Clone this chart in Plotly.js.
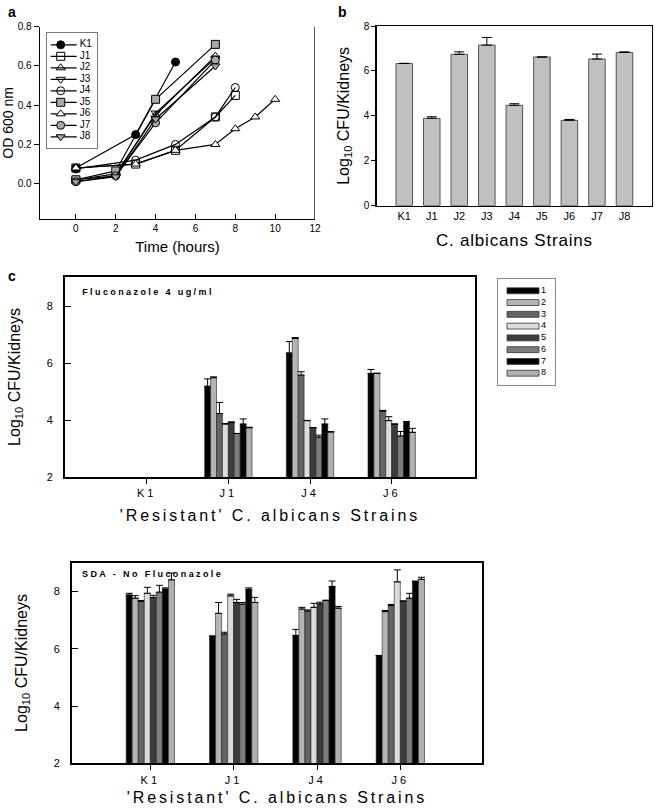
<!DOCTYPE html>
<html><head><meta charset="utf-8">
<script src="https://cdn.plot.ly/plotly-3.0.1.min.js"></script>
<style>
body{margin:0;padding:0;background:#fff}
#chart{width:655px;height:810px}
.x3title,.x4title{letter-spacing:2.9px}
.x3tick text,.x4tick text{letter-spacing:3px}
.x2title{letter-spacing:0.8px}
g.annotation[data-index="3"] text,g.annotation[data-index="4"] text{letter-spacing:2.4px}
</style></head><body><div id="chart"></div><script>
// ---------- Panel a: growth curves ----------
const strainNames = ['K1','J1','J2','J3','J4','J5','J6','J7','J8'];
const hoursK1 = [0, 3, 5];              const odK1 = [0.08, 0.25, 0.62];
const hoursJ1 = [0, 3, 5, 7, 8];        const odJ1 = [0.08, 0.10, 0.17, 0.34, 0.45];
const hoursJ2 = [0, 2, 4, 7];           const odJ2 = [0.02, 0.05, 0.35, 0.65];
const hoursJ3 = [0, 2, 4, 7];           const odJ3 = [0.02, 0.04, 0.36, 0.64];
const hoursJ4 = [0, 3, 5, 7, 8];        const odJ4 = [0.075, 0.12, 0.20, 0.34, 0.49];
const hoursJ5 = [0, 2, 4, 7];           const odJ5 = [0.02, 0.065, 0.43, 0.71];
const hoursJ6 = [0, 3, 5, 7, 8, 9, 10]; const odJ6 = [0.08, 0.10, 0.17, 0.20, 0.28, 0.34, 0.43];
const hoursJ7 = [0, 2, 4, 7];           const odJ7 = [0.01, 0.04, 0.31, 0.63];
const hoursJ8 = [0, 2, 4, 7];           const odJ8 = [0.01, 0.035, 0.33, 0.60];
const growthX = [hoursK1, hoursJ1, hoursJ2, hoursJ3, hoursJ4, hoursJ5, hoursJ6, hoursJ7, hoursJ8];
const growthY = [odK1, odJ1, odJ2, odJ3, odJ4, odJ5, odJ6, odJ7, odJ8];

// ---------- Panel b: kidney burden ----------
const kidneyStrains = ['K1','J1','J2','J3','J4','J5','J6','J7','J8'];
const kidneyLogCFU  = [6.33, 3.89, 6.74, 7.15, 4.47, 6.62, 3.80, 6.53, 6.82];
const kidneyErr     = [0.01, 0.07, 0.11, 0.34, 0.07, null, 0.04, 0.22, 0.03];

// ---------- Panel c ----------
const resistantStrains = ['K1','J1','J4','J6'];
const mouseLabels = ['1','2','3','4','5','6','7','8'];
// Fluconazole 4 ug/ml (K1 not recovered)
const fluc1 = [null, 5.19, 6.36, 5.64]; const flucErr1 = [null, 0.26, 0.40, 0.14];
const fluc2 = [null, 5.49, 6.87, 5.64]; const flucErr2 = [null, 0.03, 0.03, 0.01];
const fluc3 = [null, 4.23, 5.58, 4.32]; const flucErr3 = [null, 0.39, 0.12, 0.02];
const fluc4 = [null, 3.86, 3.98, 3.98]; const flucErr4 = [null, 0.02, 0.01, 0.14];
const fluc5 = [null, 3.91, 3.73, 3.85]; const flucErr5 = [null, 0.03, 0.01, 0.02];
const fluc6 = [null, 3.53, 3.40, 3.44]; const flucErr6 = [null, null, 0.07, 0.16];
const fluc7 = [null, 3.86, 3.86, 3.95]; const flucErr7 = [null, 0.18, 0.18, null];
const fluc8 = [null, 3.73, 3.58, 3.57]; const flucErr8 = [null, 0.02, 0.02, 0.14];
// SDA - No Fluconazole
const sda1 = [7.88, 6.44, 6.47, 5.76]; const sdaErr1 = [0.06, 0.01, 0.21, 0.01];
const sda2 = [7.77, 7.24, 7.39, 7.30]; const sdaErr2 = [0.09, 0.38, 0.06, 0.04];
const sda3 = [7.66, 6.52, 7.32, 7.51]; const sdaErr3 = [0.03, 0.06, 0.04, 0.04];
const sda4 = [7.94, 7.85, 7.45, 8.34]; const sdaErr4 = [0.21, 0.06, 0.14, 0.42];
const sda5 = [7.79, 7.62, 7.57, 7.67]; const sdaErr5 = [0.08, 0.11, 0.06, null];
const sda6 = [7.98, 7.56, 7.69, 7.77]; const sdaErr6 = [0.24, 0.06, 0.01, 0.17];
const sda7 = [8.09, 8.08, 8.18, 8.34]; const sdaErr7 = [0.04, 0.05, 0.19, 0.03];
const sda8 = [8.41, 7.62, 7.42, 8.43]; const sdaErr8 = [0.24, 0.18, 0.06, 0.07];
const flucVals = [fluc1, fluc2, fluc3, fluc4, fluc5, fluc6, fluc7, fluc8];
const flucErrs = [flucErr1, flucErr2, flucErr3, flucErr4, flucErr5, flucErr6, flucErr7, flucErr8];
const sdaVals = [sda1, sda2, sda3, sda4, sda5, sda6, sda7, sda8];
const sdaErrs = [sdaErr1, sdaErr2, sdaErr3, sdaErr4, sdaErr5, sdaErr6, sdaErr7, sdaErr8];

// ---------- styles ----------
const FONT = 'Liberation Sans, Arial, Helvetica, sans-serif';
const symbols = ['circle','square-open','triangle-up-open','triangle-down-open','circle-open','square','triangle-up','circle','triangle-down'];
const symbolFill = ['#000','#000','#000','#000','#000','#a8a8a8','#fff','#a8a8a8','#a8a8a8'];
const barColors = ['#000000','#b4b4b4','#646464','#dcdcdc','#3c3c3c','#7c7c7c','#000000','#b0b0b0'];

const traces = [];
// panel a lines
strainNames.forEach((nm, i) => {
  traces.push({type:'scatter', mode:'lines+markers', x:growthX[i], y:growthY[i], xaxis:'x', yaxis:'y', name:nm,
    line:{color:'#000', width:1.2},
    marker:{symbol:symbols[i], size:8, color:symbolFill[i], line:{color:'#000', width:1}}, cliponaxis:false});
});
// panel a legend (drawn in its own small box): sample line + symbol, then label
strainNames.forEach((nm, i) => {
  traces.push({type:'scatter', mode:'lines', x:[4, 30], y:[i+1, i+1], xaxis:'x6', yaxis:'y6',
    line:{color:'#000', width:1.2}, hoverinfo:'skip'});
  traces.push({type:'scatter', mode:'markers', x:[14], y:[i+1], xaxis:'x6', yaxis:'y6',
    marker:{symbol:symbols[i], size:8, color:symbolFill[i], line:{color:'#000', width:1}}, cliponaxis:false, hoverinfo:'skip'});
});
traces.push({type:'scatter', mode:'text', x:strainNames.map(() => 33), y:strainNames.map((s, i) => i+1), xaxis:'x6', yaxis:'y6',
  text:strainNames, textposition:'middle right', textfont:{family:FONT, size:10, color:'#000'}, cliponaxis:false, hoverinfo:'skip'});
// panel b bars
traces.push({type:'bar', x:kidneyStrains, y:kidneyLogCFU, xaxis:'x2', yaxis:'y2', width:0.6,
  marker:{color:'#c0c0c0', line:{color:'#555', width:1}},
  error_y:{type:'data', array:kidneyErr, symmetric:false, color:'#000', thickness:1, width:5}});
// panel c bars
mouseLabels.forEach((lab, i) => {
  traces.push({type:'bar', x:resistantStrains, y:flucVals[i], xaxis:'x3', yaxis:'y3', name:lab,
    marker:{color:barColors[i], line:{color:'#222', width:0.6}},
    error_y:{type:'data', array:flucErrs[i], symmetric:false, color:'#000', thickness:1, width:3.5}});
  traces.push({type:'bar', x:resistantStrains, y:sdaVals[i], xaxis:'x4', yaxis:'y4', name:lab,
    marker:{color:barColors[i], line:{color:'#222', width:0.6}},
    error_y:{type:'data', array:sdaErrs[i], symmetric:false, color:'#000', thickness:1, width:3.5}});
});
// panel c legend box
traces.push({type:'bar', orientation:'h', y:mouseLabels.map((m, i) => i+1), x:mouseLabels.map(() => 32), base:9,
  width:0.5, xaxis:'x5', yaxis:'y5', marker:{color:barColors, line:{color:'#333', width:0.8}}, hoverinfo:'skip'});
traces.push({type:'scatter', mode:'text', y:mouseLabels.map((m, i) => i+1), x:mouseLabels.map(() => 43),
  text:mouseLabels, textposition:'middle right', textfont:{family:FONT, size:9, color:'#000'},
  xaxis:'x5', yaxis:'y5', cliponaxis:false, hoverinfo:'skip'});

const W = 655, H = 810;
const px = (a, b) => [a / W, b / W];
const py = (top, bottom) => [1 - bottom / H, 1 - top / H];
const baseAxis = {showgrid:false, zeroline:false, showline:true, linecolor:'#000', tickcolor:'#000',
  tickfont:{family:FONT, size:10, color:'#000'}};

const layout = {
  width:W, height:H, margin:{l:0, r:0, t:0, b:0}, showlegend:false,
  paper_bgcolor:'#fff', plot_bgcolor:'rgba(0,0,0,0)',
  font:{family:FONT, color:'#000'},
  barmode:'group', bargap:0.42, bargroupgap:0,
  xaxis:Object.assign({}, baseAxis, {domain:px(40, 315), anchor:'y', range:[-1.8, 12], tickvals:[0,2,4,6,8,10,12],
    ticks:'inside', ticklen:5, linewidth:1.3,
    title:{text:'Time (hours)', font:{family:FONT, size:15}, standoff:8}}),
  yaxis:Object.assign({}, baseAxis, {domain:py(26.7, 219), anchor:'x', range:[-0.18, 0.8], tickvals:[0,0.2,0.4,0.6,0.8],
    tickformat:'.1f', ticks:'outside', ticklen:5, linewidth:1.3,
    title:{text:'OD 600 nm', font:{family:FONT, size:14}, standoff:2}}),
  xaxis2:Object.assign({}, baseAxis, {domain:px(376.7, 652), anchor:'y2', type:'category', categoryarray:kidneyStrains,
    range:[-1, 9], ticks:'', mirror:true, linewidth:1.3, tickfont:{family:FONT, size:11, color:'#000'},
    title:{text:'C. albicans Strains', font:{family:FONT, size:17}, standoff:13}}),
  yaxis2:Object.assign({}, baseAxis, {domain:py(26, 205.7), anchor:'x2', range:[0, 8], dtick:2,
    ticks:'outside', ticklen:4, mirror:true, linewidth:1.3,
    title:{text:'Log<sub>10</sub> CFU/Kidneys', font:{family:FONT, size:16}, standoff:10}}),
  xaxis3:Object.assign({}, baseAxis, {domain:px(65, 475), anchor:'y3', type:'category', categoryarray:resistantStrains,
    range:[-1, 4.02], ticks:'outside', ticklen:5, mirror:true, linewidth:2, tickfont:{family:FONT, size:11, color:'#000'},
    title:{text:"'Resistant' C. albicans Strains", font:{family:FONT, size:16}, standoff:12}}),
  yaxis3:Object.assign({}, baseAxis, {domain:py(277, 477), anchor:'x3', range:[2, 9.03], tickvals:[2,4,6,8],
    ticks:'inside', ticklen:6, ticklabelstandoff:8, mirror:true, linewidth:2, tickfont:{family:FONT, size:11, color:'#000'},
    title:{text:'Log<sub>10</sub> CFU/Kidneys', font:{family:FONT, size:16}, standoff:22}}),
  xaxis4:Object.assign({}, baseAxis, {domain:px(72, 482), anchor:'y4', type:'category', categoryarray:resistantStrains,
    range:[-0.94, 3.98], ticks:'outside', ticklen:5, mirror:true, linewidth:2, tickfont:{family:FONT, size:11, color:'#000'},
    title:{text:"'Resistant' C. albicans Strains", font:{family:FONT, size:16}, standoff:7}}),
  yaxis4:Object.assign({}, baseAxis, {domain:py(562.7, 763.3), anchor:'x4', range:[2, 9.01], tickvals:[2,4,6,8],
    ticks:'inside', ticklen:6, ticklabelstandoff:8, mirror:true, linewidth:2, tickfont:{family:FONT, size:11, color:'#000'},
    title:{text:'Log<sub>10</sub> CFU/Kidneys', font:{family:FONT, size:16}, standoff:22}}),
  xaxis5:{domain:px(498, 555), anchor:'y5', range:[0, 57], showgrid:false, zeroline:false, showline:true, mirror:true,
    linecolor:'#888', linewidth:1, showticklabels:false, ticks:'', fixedrange:true},
  yaxis5:{domain:py(279, 385), anchor:'x5', range:[9, 0], showgrid:false, zeroline:false, showline:true, mirror:true,
    linecolor:'#888', linewidth:1, showticklabels:false, ticks:'', fixedrange:true},
  xaxis6:{domain:px(46.7, 97.3), anchor:'y6', range:[0, 50.6], showgrid:false, zeroline:false, showline:true, mirror:true,
    linecolor:'#777', linewidth:1, showticklabels:false, ticks:'', fixedrange:true},
  yaxis6:{domain:py(33.3, 148.3), anchor:'x6', range:[10, 0], showgrid:false, zeroline:false, showline:true, mirror:true,
    linecolor:'#777', linewidth:1, showticklabels:false, ticks:'', fixedrange:true},
  shapes:[{type:'line', xref:'x', x0:12, x1:12, yref:'y domain', y0:0, y1:1, line:{color:'#000', width:1.3}}],
  annotations:[
    {text:'<b>a</b>', xref:'paper', yref:'paper', x:12/W, y:1-12/H, xanchor:'center', yanchor:'middle', showarrow:false, font:{family:FONT, size:14}},
    {text:'<b>b</b>', xref:'paper', yref:'paper', x:342/W, y:1-12/H, xanchor:'center', yanchor:'middle', showarrow:false, font:{family:FONT, size:14}},
    {text:'<b>c</b>', xref:'paper', yref:'paper', x:12/W, y:1-276/H, xanchor:'center', yanchor:'middle', showarrow:false, font:{family:FONT, size:14}},
    {text:'<b>Fluconazole 4 ug/ml</b>', xref:'paper', yref:'paper', x:148/W, y:1-292/H, xanchor:'center', yanchor:'middle', showarrow:false, font:{family:FONT, size:9, color:'#000'}},
    {text:'<b>SDA - No Fluconazole</b>', xref:'paper', yref:'paper', x:152/W, y:1-573.5/H, xanchor:'center', yanchor:'middle', showarrow:false, font:{family:FONT, size:9, color:'#000'}}
  ]
};
Plotly.newPlot('chart', traces, layout, {staticPlot:true, displayModeBar:false});
</script></body></html>
